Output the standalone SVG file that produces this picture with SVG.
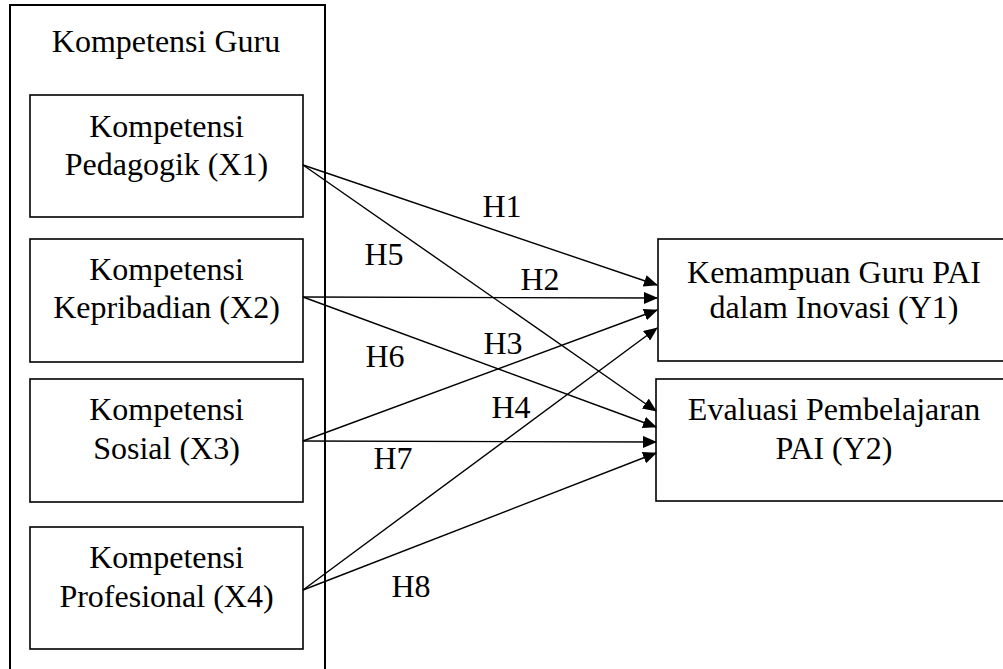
<svg xmlns="http://www.w3.org/2000/svg" width="1003" height="669" viewBox="0 0 1003 669">
<style>
text{font-family:'Liberation Serif','Times New Roman','DejaVu Serif',serif;font-size:32px;fill:#000;text-anchor:middle}
.box{fill:#fff;stroke:#000;stroke-width:1.6}
.outer{fill:#fff;stroke:#000;stroke-width:2}
.conn line{stroke:#000;stroke-width:1.4;marker-end:url(#ah)}
</style>
<defs>
<marker id="ah" viewBox="0 0 14 12" markerWidth="14" markerHeight="12" refX="13" refY="6" orient="auto" markerUnits="userSpaceOnUse">
<path d="M0,0 L14,6 L0,12 z" fill="#000"/>
</marker>
</defs>
<rect width="1003" height="669" fill="#fff"/>
<g id="kompetensi-guru">
<rect class="outer" x="10" y="5" width="315" height="680"/>
<text x="166" y="52" font-family="Liberation Serif">Kompetensi Guru</text>
</g>
<g id="x1">
<rect class="box" x="30" y="95" width="273" height="122"/>
<text x="166.5" y="137">Kompetensi</text>
<text x="166.5" y="175">Pedagogik (X1)</text>
</g>
<g id="x2">
<rect class="box" x="30" y="239" width="273" height="123"/>
<text x="166.5" y="280">Kompetensi</text>
<text x="166.5" y="318">Kepribadian (X2)</text>
</g>
<g id="x3">
<rect class="box" x="30" y="379" width="273" height="123"/>
<text x="166.5" y="420">Kompetensi</text>
<text x="166.5" y="459">Sosial (X3)</text>
</g>
<g id="x4">
<rect class="box" x="30" y="527" width="273" height="122"/>
<text x="166.5" y="568">Kompetensi</text>
<text x="166.5" y="607">Profesional (X4)</text>
</g>
<g id="y1">
<rect class="box" x="658" y="239" width="360" height="122"/>
<text x="834" y="283">Kemampuan Guru PAI</text>
<text x="834" y="318">dalam Inovasi (Y1)</text>
</g>
<g id="y2">
<rect class="box" x="656" y="379" width="360" height="122"/>
<text x="834" y="420">Evaluasi Pembelajaran</text>
<text x="834" y="459">PAI (Y2)</text>
</g>
<g id="connectors" class="conn">
<line x1="303" y1="165" x2="657" y2="285"/>
<line x1="303" y1="165" x2="656" y2="411"/>
<line x1="303" y1="297" x2="657" y2="298"/>
<line x1="303" y1="297" x2="656" y2="427"/>
<line x1="303" y1="441" x2="657" y2="310"/>
<line x1="303" y1="441" x2="656" y2="442"/>
<line x1="303" y1="590" x2="657" y2="328"/>
<line x1="303" y1="590" x2="656" y2="453"/>
</g>
<g id="labels">
<text x="502" y="217">H1</text>
<text x="540" y="290">H2</text>
<text x="503" y="354">H3</text>
<text x="511" y="418">H4</text>
<text x="384" y="265">H5</text>
<text x="385" y="367">H6</text>
<text x="393" y="469">H7</text>
<text x="411" y="597">H8</text>
</g>
</svg>
